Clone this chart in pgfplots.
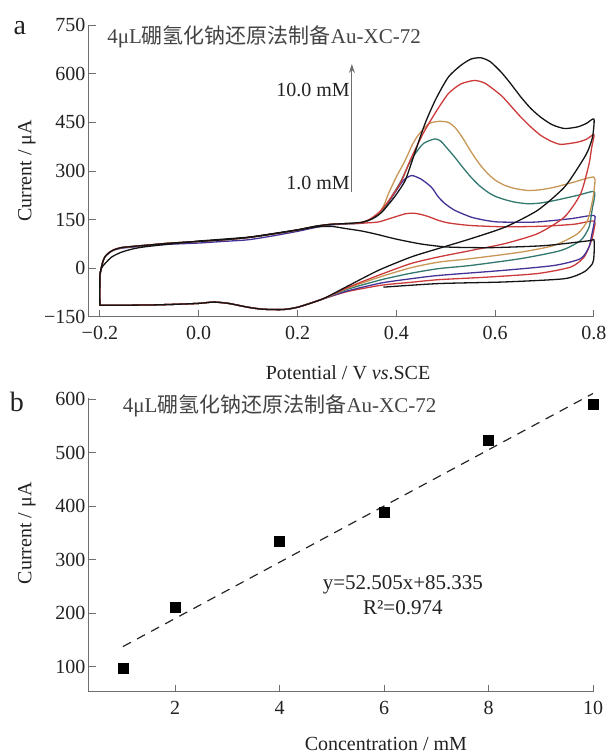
\documentclass[border=0pt]{standalone}
\usepackage{fontspec}
\setmainfont{Liberation Serif}
\newfontfamily\cjk{Noto Sans CJK SC}
\usepackage{pgfplots}
\pgfplotsset{compat=1.18}
\usetikzlibrary{arrows.meta}

\definecolor{axgray}{HTML}{6E6E6E}
\definecolor{txt}{HTML}{222222}
\definecolor{cred}{HTML}{CD3A3A}
\definecolor{cblue}{HTML}{463296}
\definecolor{cteal}{HTML}{32786E}
\definecolor{ctan}{HTML}{C89655}
\definecolor{cblk}{HTML}{141414}

\pgfplotsset{
  panel/.style={
    scale only axis, clip=false,
    axis x line*=bottom, axis y line*=left,
    tick align=inside, major tick length=7pt,
    axis line style={draw=axgray, line width=1pt},
    major tick style={draw=axgray, line width=1pt},
    tick label style={font=\fontsize{20}{20}\selectfont, text=txt},
    xticklabel style={yshift=-6pt},
    label style={font=\fontsize{20}{20}\selectfont, text=txt},
  },
  cv/.style={line width=1.3pt, smooth, tension=0.4, line join=round},
}

\begin{document}
\begin{tikzpicture}
\useasboundingbox (0pt,0pt) rectangle (611pt,756pt);

% ---- (a) cyclic voltammograms
\begin{axis}[panel, at={(89pt,439pt)}, anchor=south west,
  width=505pt, height=292pt,
  xmin=-0.222, xmax=0.8, ymin=-150, ymax=750,
  xtick={-0.2,0,0.2,0.4,0.6,0.8},
  xticklabels={−0.2,0.0,0.2,0.4,0.6,0.8},
  ytick={-150,0,150,300,450,600,750},
  yticklabels={−150,0,150,300,450,600,750},
  xlabel={Potential / V \textit{vs}.SCE},
  ylabel={Current / μA},
  xlabel style={at={(axis description cs:0.513,-0.192)}, anchor=center},
  ylabel style={at={(axis description cs:-0.123,0.5)}, anchor=center},
]
% 1.0 mM
\addplot[cv, cred] coordinates {
 (-0.2,-19) (-0.195,15) (-0.19,35) (-0.18,50) (-0.17,58) (-0.156,64) (-0.13,68)
 (-0.1,72) (-0.063,77) (0.0,83) (0.05,88) (0.1,95) (0.15,106) (0.2,118)
 (0.24,130) (0.27,136) (0.3,138) (0.32,138) (0.34,140) (0.364,143) (0.39,155)
 (0.418,168) (0.435,170) (0.45,166) (0.464,160) (0.485,148) (0.505,140)
 (0.55,132) (0.62,128) (0.7,130) (0.76,136) (0.8,146)
 (0.8,120) (0.795,86) (0.78,35) (0.753,4) (0.686,-16) (0.585,-27) (0.485,-35)
 (0.43,-43) (0.37,-52) (0.3,-72)
 (0.25,-95) (0.2,-120) (0.17,-127) (0.13,-126) (0.1,-120) (0.06,-108)
 (0.03,-104) (0.0,-108) (-0.05,-111) (-0.1,-113) (-0.19,-114) (-0.199,-113)
 (-0.2,-108) (-0.2,-19)};
% 2 mM
\addplot[cv, cblue] coordinates {
 (-0.2,-19) (-0.195,15) (-0.19,35) (-0.18,49) (-0.17,57) (-0.156,62) (-0.13,66)
 (-0.1,70) (-0.063,74) (0.0,78) (0.05,83) (0.1,88) (0.15,100) (0.2,114)
 (0.24,127) (0.27,134) (0.3,137) (0.33,140) (0.36,160) (0.38,195) (0.40,240)
 (0.415,272) (0.431,286) (0.45,275) (0.471,250) (0.485,220) (0.498,200)
 (0.518,179) (0.551,158) (0.58,148) (0.605,143) (0.65,142) (0.686,143)
 (0.753,153) (0.8,163)
 (0.8,138) (0.795,100) (0.79,66) (0.773,30) (0.72,9) (0.619,-6) (0.485,-22)
 (0.43,-32) (0.37,-45) (0.3,-70)
 (0.25,-95) (0.2,-120) (0.17,-127) (0.13,-126) (0.1,-120) (0.06,-108)
 (0.03,-104) (0.0,-108) (-0.05,-111) (-0.1,-113) (-0.19,-114) (-0.199,-113)
 (-0.2,-108) (-0.2,-19)};
% 4 mM
\addplot[cv, cteal] coordinates {
 (-0.2,-19) (-0.195,15) (-0.19,35) (-0.18,50) (-0.17,58) (-0.156,64) (-0.13,68)
 (-0.1,72) (-0.063,77) (0.0,83) (0.05,88) (0.1,95) (0.15,106) (0.2,118)
 (0.24,130) (0.27,136) (0.3,138) (0.33,141) (0.35,153) (0.37,175) (0.39,220)
 (0.41,271) (0.425,320) (0.438,353) (0.455,385) (0.478,399) (0.49,392)
 (0.5,375) (0.518,343) (0.535,310) (0.551,281) (0.568,255) (0.585,235)
 (0.6,222) (0.619,212) (0.64,204) (0.666,199) (0.69,201) (0.72,209)
 (0.767,225) (0.8,237)
 (0.8,210) (0.797,189) (0.79,127) (0.773,86) (0.733,55) (0.652,30) (0.551,9)
 (0.485,-1) (0.43,-15) (0.37,-35) (0.3,-65)
 (0.25,-95) (0.2,-120) (0.17,-127) (0.13,-126) (0.1,-120) (0.06,-108)
 (0.03,-104) (0.0,-108) (-0.05,-111) (-0.1,-113) (-0.19,-114) (-0.199,-113)
 (-0.2,-108) (-0.2,-19)};
% 6 mM
\addplot[cv, ctan] coordinates {
 (-0.2,-19) (-0.195,15) (-0.19,35) (-0.18,50) (-0.17,58) (-0.156,64) (-0.13,68)
 (-0.1,72) (-0.063,77) (0.0,83) (0.05,88) (0.1,95) (0.15,106) (0.2,118)
 (0.24,130) (0.27,136) (0.3,138) (0.32,139) (0.337,145) (0.35,152) (0.364,168)
 (0.375,195) (0.384,230) (0.40,282) (0.418,333) (0.432,380) (0.444,410)
 (0.465,445) (0.485,453) (0.505,450) (0.52,432) (0.535,400) (0.551,360)
 (0.568,322) (0.585,292) (0.6,272) (0.619,256) (0.64,246) (0.666,240)
 (0.69,242) (0.72,250) (0.76,266) (0.8,281)
 (0.8,240) (0.797,209) (0.787,148) (0.767,107) (0.72,71) (0.652,50) (0.551,30)
 (0.485,19) (0.43,2) (0.37,-25) (0.3,-62)
 (0.25,-95) (0.2,-120) (0.17,-127) (0.13,-126) (0.1,-120) (0.06,-108)
 (0.03,-104) (0.0,-108) (-0.05,-111) (-0.1,-113) (-0.19,-114) (-0.199,-113)
 (-0.2,-108) (-0.2,-19)};
% 8 mM
\addplot[cv, cred] coordinates {
 (-0.2,-19) (-0.195,15) (-0.19,35) (-0.18,50) (-0.17,58) (-0.156,64) (-0.13,68)
 (-0.1,72) (-0.063,77) (0.0,83) (0.05,88) (0.1,95) (0.15,106) (0.2,118)
 (0.24,130) (0.27,136) (0.3,138) (0.33,140) (0.35,155) (0.37,180) (0.39,220)
 (0.41,268) (0.43,340) (0.454,415) (0.48,482) (0.505,538) (0.53,568)
 (0.558,579) (0.58,570) (0.612,533) (0.632,500) (0.652,466) (0.672,436)
 (0.692,410) (0.713,392) (0.733,382) (0.767,389) (0.785,398) (0.8,412)
 (0.795,370) (0.79,322) (0.773,230) (0.74,158) (0.686,107) (0.619,76)
 (0.551,55) (0.485,35) (0.43,15) (0.37,-18) (0.3,-60)
 (0.25,-95) (0.2,-120) (0.17,-127) (0.13,-126) (0.1,-120) (0.06,-108)
 (0.03,-104) (0.0,-108) (-0.05,-111) (-0.1,-113) (-0.19,-114) (-0.199,-113)
 (-0.2,-108) (-0.2,-19)};
% 10 mM
\addplot[cv, cblk] coordinates {
 (-0.2,-25) (-0.197,0) (-0.19,14) (-0.176,35) (-0.156,50) (-0.13,61) (-0.1,68)
 (0.0,84) (0.1,96) (0.15,107) (0.2,119) (0.24,131) (0.27,136) (0.3,138)
 (0.33,142) (0.35,152) (0.37,172) (0.39,208) (0.40,228) (0.418,271)
 (0.435,345) (0.458,446) (0.48,522) (0.505,589) (0.53,625) (0.551,645)
 (0.571,649) (0.59,637) (0.612,605) (0.632,568) (0.652,528) (0.672,493)
 (0.692,466) (0.715,443) (0.74,431) (0.767,436) (0.785,447) (0.8,460)
 (0.797,404) (0.787,360) (0.773,323) (0.74,250) (0.686,179) (0.62,127)
 (0.55,91) (0.485,61) (0.43,35) (0.364,-6) (0.3,-56)
 (0.25,-95) (0.2,-120) (0.17,-127) (0.13,-126) (0.1,-120) (0.06,-108)
 (0.03,-104) (0.0,-108) (-0.05,-111) (-0.1,-113) (-0.19,-114) (-0.199,-113)
 (-0.2,-108) (-0.2,-25)};
% blank
\addplot[cv, cblk] coordinates {
 (-0.2,-19) (-0.195,15) (-0.19,35) (-0.18,50) (-0.17,58) (-0.156,64) (-0.13,68)
 (-0.1,72) (-0.063,77) (0.0,83) (0.05,88) (0.1,95) (0.15,106) (0.2,118)
 (0.24,128) (0.27,129) (0.3,122) (0.33,115) (0.36,105) (0.4,90) (0.45,75)
 (0.5,66) (0.55,64) (0.6,64) (0.7,70) (0.79,85) (0.8,88)
 (0.8,40) (0.797,15) (0.78,-11) (0.74,-32) (0.619,-42) (0.485,-47) (0.374,-58)};

\draw[draw=axgray, line width=1.2pt, -{Stealth[length=9pt,width=6pt]}]
  (axis cs:0.31,235) -- (axis cs:0.31,630);
\node[anchor=east, font=\fontsize{20}{20}\selectfont, text=txt, inner sep=2pt]
  at (axis cs:0.31,551) {10.0 mM};
\node[anchor=east, font=\fontsize{20}{20}\selectfont, text=txt, inner sep=2pt]
  at (axis cs:0.31,262) {1.0 mM};
\node[anchor=west, font=\fontsize{21}{21}\selectfont, text=txt!85, inner sep=0pt]
  at (axis description cs:0.036,0.959) {4μL{\cjk 硼氢化钠还原法制备}Au-XC-72};
\node[font=\fontsize{28}{28}\selectfont, text=txt, inner sep=0pt]
  at (axis description cs:-0.137,0.99) {a};
\end{axis}

% ---- (b) calibration
\begin{axis}[panel, at={(89pt,64pt)}, anchor=south west,
  width=504pt, height=294pt,
  xmin=0.35, xmax=10, ymin=53, ymax=602,
  xtick={2,4,6,8,10},
  ytick={100,200,300,400,500,600},
  /pgf/number format/assume math mode=true,
  xlabel={Concentration / mM},
  ylabel={Current / μA},
  xlabel style={at={(axis description cs:0.589,-0.178)}, anchor=center},
  ylabel style={at={(axis description cs:-0.123,0.54)}, anchor=center},
]
\addplot[black!85, line width=1.2pt, dash pattern=on 9pt off 7pt]
  coordinates {(1,137.84) (10,610.385)};
\addplot[only marks, mark=square*, mark size=5pt, black]
  coordinates {(1,97) (2,211) (4,334) (6,389) (8,524) (10,590)};
\node[font=\fontsize{21}{21}\selectfont, text=txt] at (axis cs:6.36,254) {y=52.505x+85.335};
\node[font=\fontsize{21}{21}\selectfont, text=txt] at (axis cs:6.36,210) {R²=0.974};
\node[anchor=west, font=\fontsize{21}{21}\selectfont, text=txt!85, inner sep=0pt]
  at (axis description cs:0.067,0.973) {4μL{\cjk 硼氢化钠还原法制备}Au-XC-72};
\node[font=\fontsize{28}{28}\selectfont, text=txt, inner sep=0pt]
  at (axis description cs:-0.143,0.986) {b};
\end{axis}
\end{tikzpicture}
\end{document}
